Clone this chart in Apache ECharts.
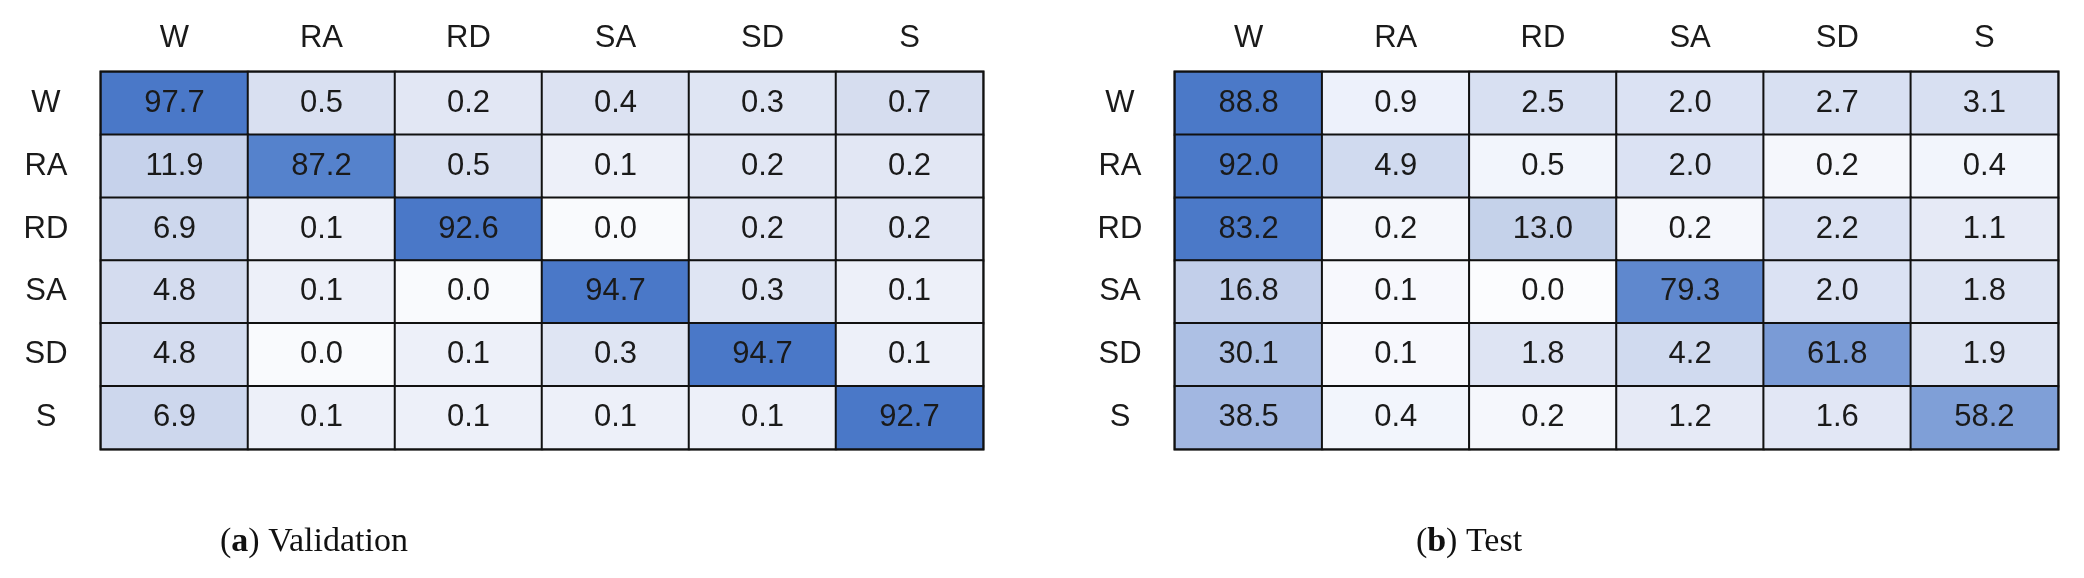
<!DOCTYPE html>
<html>
<head>
<meta charset="utf-8">
<script src="https://cdn.jsdelivr.net/npm/echarts@6/dist/echarts.min.js"></script>
<style>
  html, body { margin: 0; padding: 0; background: #ffffff; }
  #chart { width: 2084px; height: 578px; }
</style>
</head>
<body>
<div id="chart"></div>
<script>
// Class labels (columns = predicted, rows = actual)
const categories = ['W', 'RA', 'RD', 'SA', 'SD', 'S'];

// (a) Validation matrix, row by row
const validationRows = [
  [97.7, 0.5, 0.2, 0.4, 0.3, 0.7],
  [11.9, 87.2, 0.5, 0.1, 0.2, 0.2],
  [6.9, 0.1, 92.6, 0.0, 0.2, 0.2],
  [4.8, 0.1, 0.0, 94.7, 0.3, 0.1],
  [4.8, 0.0, 0.1, 0.3, 94.7, 0.1],
  [6.9, 0.1, 0.1, 0.1, 0.1, 92.7]
];

// (b) Test matrix, row by row
const testRows = [
  [88.8, 0.9, 2.5, 2.0, 2.7, 3.1],
  [92.0, 4.9, 0.5, 2.0, 0.2, 0.4],
  [83.2, 0.2, 13.0, 0.2, 2.2, 1.1],
  [16.8, 0.1, 0.0, 79.3, 2.0, 1.8],
  [30.1, 0.1, 1.8, 4.2, 61.8, 1.9],
  [38.5, 0.4, 0.2, 1.2, 1.6, 58.2]
];

const captions = ['Validation', 'Test'];
const captionTags = ['a', 'b'];

function toCells(rows) {
  const out = [];
  rows.forEach((row, r) => row.forEach((v, c) => out.push([c, r, v])));
  return out;
}

const FONT = '"Liberation Sans", Arial, sans-serif';
const SERIF = '"Liberation Serif", "Times New Roman", serif';

const gridPos = [
  { left: 101, top: 72, width: 882, height: 377 },
  { left: 1175, top: 72, width: 883, height: 377 }
];

const valPieces = [
  { lt: 0.05, color: '#f9fafd' },
  { gte: 0.05, lt: 0.15, color: '#edf0f9' },
  { gte: 0.15, lt: 0.25, color: '#e2e7f4' },
  { gte: 0.25, lt: 0.35, color: '#dfe5f3' },
  { gte: 0.35, lt: 0.45, color: '#dce2f2' },
  { gte: 0.45, lt: 0.6, color: '#d9e0f1' },
  { gte: 0.6, lt: 1, color: '#d6ddef' },
  { gte: 1, lt: 5.5, color: '#d4dcef' },
  { gte: 5.5, lt: 10, color: '#cdd7ed' },
  { gte: 10, lt: 50, color: '#c6d2eb' },
  { gte: 50, lt: 90, color: '#5582cc' },
  { gte: 90, color: '#4a78c8' }
];

const testPieces = [
  { lt: 0.05, color: '#fbfcfe' },
  { gte: 0.05, lt: 0.15, color: '#f7f8fd' },
  { gte: 0.15, lt: 0.3, color: '#f5f7fc' },
  { gte: 0.3, lt: 0.7, color: '#f2f5fc' },
  { gte: 0.7, lt: 1.0, color: '#edf1fb' },
  { gte: 1.0, lt: 1.4, color: '#e6eaf6' },
  { gte: 1.4, lt: 1.7, color: '#e2e7f5' },
  { gte: 1.7, lt: 1.95, color: '#dee4f3' },
  { gte: 1.95, lt: 2.4, color: '#dbe2f3' },
  { gte: 2.4, lt: 3.5, color: '#d8e0f2' },
  { gte: 3.5, lt: 8, color: '#d0daef' },
  { gte: 8, lt: 15, color: '#c5d2ea' },
  { gte: 15, lt: 25, color: '#c2cfea' },
  { gte: 25, lt: 35, color: '#adc0e4' },
  { gte: 35, lt: 50, color: '#a2b7e1' },
  { gte: 50, lt: 60, color: '#7f9fd7' },
  { gte: 60, lt: 70, color: '#7a9bd6' },
  { gte: 70, lt: 82, color: '#5f88ce' },
  { gte: 82, color: '#4b79c8' }
];

const grids = gridPos.map(g => Object.assign({
  show: true, borderColor: '#111', borderWidth: 3, backgroundColor: 'transparent', containLabel: false
}, g));

const xAxes = [0, 1].map(i => ({
  type: 'category', gridIndex: i, data: categories, position: 'top',
  axisLine: { show: false }, axisTick: { show: false }, splitLine: { show: false },
  axisLabel: { fontSize: 31, color: '#1a1a1a', fontFamily: FONT, margin: 18 }
}));

const yAxes = [0, 1].map(i => ({
  type: 'category', gridIndex: i, data: categories, inverse: true,
  axisLine: { show: false }, axisTick: { show: false }, splitLine: { show: false },
  axisLabel: { fontSize: 31, color: '#1a1a1a', fontFamily: FONT, margin: 55, align: 'center' }
}));

const series = [validationRows, testRows].map((rows, i) => ({
  type: 'heatmap', xAxisIndex: i, yAxisIndex: i, data: toCells(rows),
  label: {
    show: true, fontSize: 31, color: '#1a1a1a', fontFamily: FONT,
    formatter: p => p.value[2].toFixed(1)
  },
  itemStyle: { borderColor: '#111', borderWidth: 2 },
  emphasis: { disabled: true }
}));

const option = {
  animation: false,
  backgroundColor: '#ffffff',
  grid: grids,
  xAxis: xAxes,
  yAxis: yAxes,
  visualMap: [
    { type: 'piecewise', show: false, seriesIndex: 0, dimension: 2, pieces: valPieces },
    { type: 'piecewise', show: false, seriesIndex: 1, dimension: 2, pieces: testPieces }
  ],
  series: series,
  graphic: [314, 1469].map((x, i) => ({
    type: 'text', x: x, y: 542,
    style: {
      text: '{n|(}{b|' + captionTags[i] + '}{n|) ' + captions[i] + '}',
      textAlign: 'center', textVerticalAlign: 'middle',
      rich: {
        n: { fontSize: 34, fontFamily: SERIF, fill: '#111' },
        b: { fontSize: 34, fontFamily: SERIF, fontWeight: 'bold', fill: '#111' }
      }
    }
  }))
};

const chart = echarts.init(document.getElementById('chart'));
chart.setOption(option);
</script>
</body>
</html>
